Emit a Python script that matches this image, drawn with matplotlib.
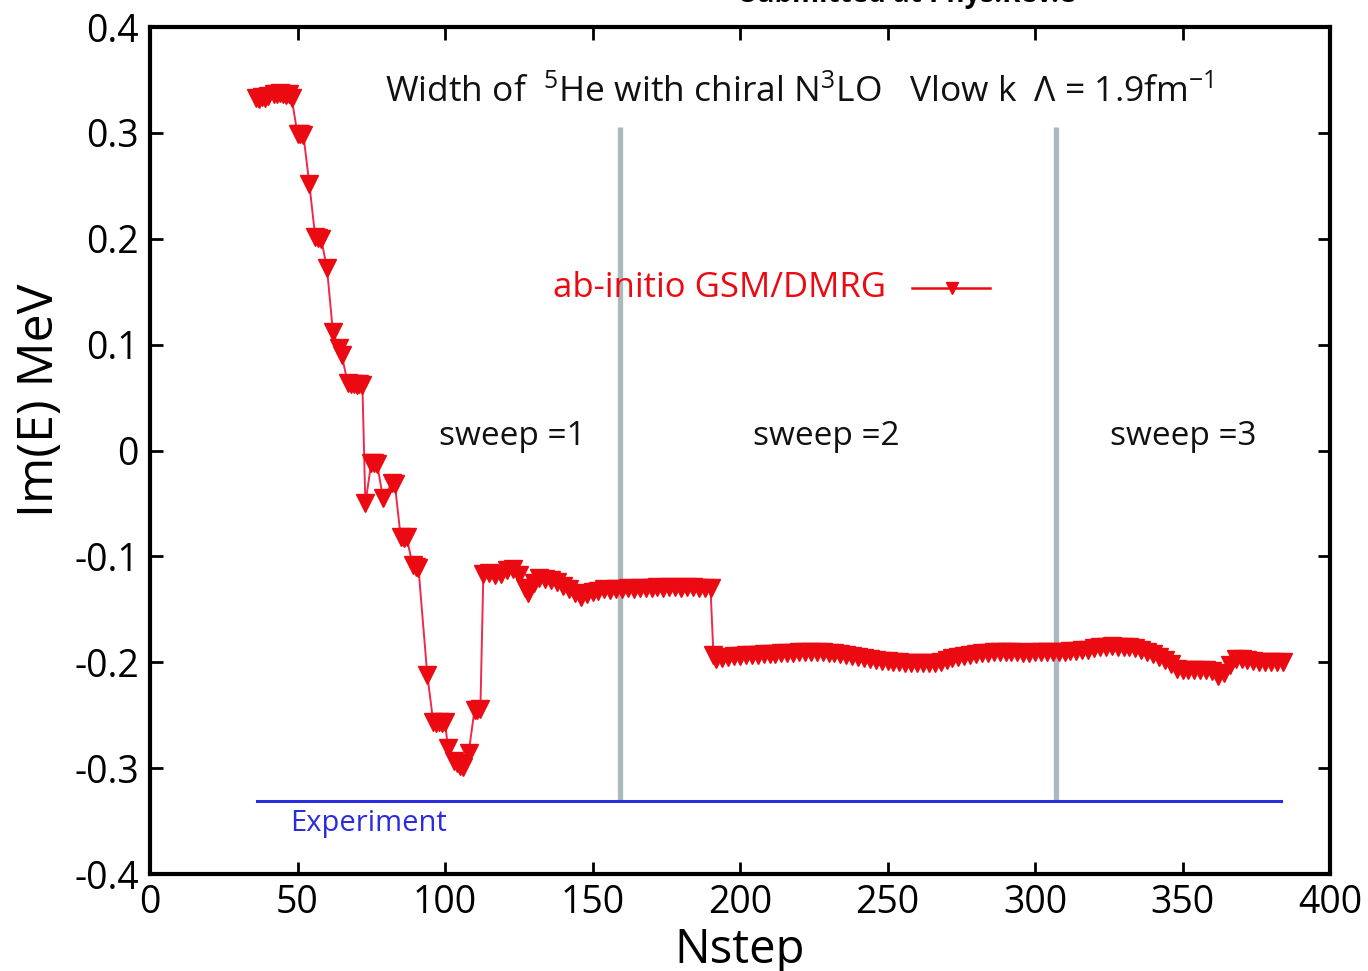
import matplotlib
matplotlib.use("Agg")
import matplotlib.pyplot as plt
from matplotlib import font_manager

names = {f.name for f in font_manager.fontManager.ttflist}
FONT = 'Liberation Sans Narrow' if 'Liberation Sans Narrow' in names else 'Open Sans'
plt.rcParams['font.family'] = [FONT, 'DejaVu Sans']
plt.rcParams['mathtext.fontset'] = 'custom'
plt.rcParams['mathtext.rm'] = FONT
plt.rcParams['mathtext.it'] = FONT
plt.rcParams['mathtext.bf'] = FONT

# ---- data ----
nstep = [36, 37, 38, 39, 40, 42, 43, 44, 45, 46, 47, 48,
         50, 51, 52, 54, 56, 57, 58, 60, 62, 64, 65,
         67, 68, 69, 70, 71, 72, 73, 75, 76, 77, 79, 82, 83,
         85, 86, 87, 89, 90, 91, 94, 96, 97, 98, 99, 100, 101,
         103, 104, 105, 106, 108, 110, 111, 112,
         113, 115, 117, 119, 121, 123, 125, 127, 128, 130, 132, 134, 136, 138,
         140, 142, 144, 146, 148, 150, 152,
         154, 156, 158, 160, 162, 164, 166, 168, 170, 172, 174, 176, 178, 180,
         182, 184, 186, 188, 190,
         191, 192, 194,
         196, 198, 200, 202, 204, 206, 208, 210, 212, 214, 216, 218, 220, 222,
         224, 226, 228, 230, 232, 234, 236, 238, 240, 242, 244, 246, 248, 250,
         252, 254, 256, 258, 260, 262, 264, 266, 268, 270, 272, 274, 276, 278,
         280, 282, 284, 286, 288, 290, 292, 294, 296, 298, 300, 302, 304, 306,
         308, 310, 312, 314, 316, 318, 320, 322, 324, 326, 328, 330, 332, 334,
         336, 338, 340, 342, 344, 346, 348, 350, 352, 354, 356, 358, 360, 362,
         364, 366, 368, 370, 372, 374, 376, 378, 380, 382, 384]
im_e = [0.333, 0.332, 0.334, 0.333, 0.335, 0.337, 0.337, 0.338, 0.337, 0.336, 0.337, 0.333,
        0.299, 0.299, 0.298, 0.252, 0.202, 0.201, 0.200, 0.172, 0.112, 0.097, 0.090,
        0.064, 0.063, 0.063, 0.062, 0.063, 0.062, -0.050, -0.012, -0.012, -0.013, -0.045, -0.031, -0.032,
        -0.082, -0.083, -0.082, -0.108, -0.110, -0.111, -0.212, -0.256, -0.257, -0.256, -0.257, -0.256, -0.281,
        -0.293, -0.295, -0.298, -0.299, -0.286, -0.245, -0.245, -0.244,
        -0.117, -0.116, -0.118, -0.117, -0.113, -0.112, -0.118, -0.130, -0.135, -0.125, -0.120, -0.121, -0.122, -0.124,
        -0.128, -0.131, -0.135, -0.138, -0.136, -0.134, -0.133,
        -0.131, -0.132, -0.131, -0.131, -0.130, -0.131, -0.130, -0.130, -0.130, -0.129, -0.130, -0.129, -0.129, -0.130,
        -0.129, -0.129, -0.130, -0.130, -0.130,
        -0.193, -0.197, -0.196,
        -0.195, -0.194, -0.194, -0.193, -0.193, -0.193, -0.192, -0.192, -0.192, -0.191, -0.191, -0.191, -0.190, -0.190,
        -0.190, -0.190, -0.190, -0.191, -0.191, -0.192, -0.193, -0.194, -0.195, -0.196, -0.197, -0.198, -0.199, -0.199,
        -0.200, -0.200, -0.201, -0.201, -0.201, -0.201, -0.201, -0.201, -0.200, -0.198, -0.196, -0.195, -0.194, -0.193,
        -0.192, -0.191, -0.191, -0.190, -0.190, -0.190, -0.190, -0.190, -0.191, -0.191, -0.190, -0.190, -0.190, -0.190,
        -0.190, -0.190, -0.189, -0.189, -0.188, -0.188, -0.187, -0.186, -0.186, -0.185, -0.186, -0.186, -0.186, -0.187,
        -0.188, -0.190, -0.192, -0.195, -0.198, -0.202, -0.206, -0.207, -0.207, -0.207, -0.207, -0.207, -0.208, -0.213,
        -0.210, -0.203, -0.197, -0.197, -0.198, -0.199, -0.200, -0.200, -0.200, -0.200, -0.200]

sweep_bounds = [159.3, 307.1]
experiment = -0.331
exp_range = [36.3, 383.4]
xticks = [0, 50, 100, 150, 200, 250, 300, 350, 400]
yticks = [-0.4, -0.3, -0.2, -0.1, 0.0, 0.1, 0.2, 0.3, 0.4]
ytick_labels = ['-0.4', '-0.3', '-0.2', '-0.1', '0', '0.1', '0.2', '0.3', '0.4']
sweep_labels = ['sweep =1', 'sweep =2', 'sweep =3']
sweep_label_x = [122.7, 229.2, 350.2]

RED = '#ec0a12'
LINE_RED = '#f0284a'

fig = plt.figure(figsize=(13.68, 9.71), dpi=100)
ax = fig.add_axes([150/1368, 1 - 874/971, 1180/1368, 847/971])
ax.set_xlim(0, 400)
ax.set_ylim(-0.4, 0.4)

# sweep separators
for xb in sweep_bounds:
    ax.plot([xb, xb], [0.306, experiment], color='#a9b9bd', lw=3.8, zorder=1, solid_capstyle='butt')

# experiment
ax.plot(exp_range, [experiment, experiment], color='#2b2be0', lw=2.2, zorder=2)
ax.text(47.5, -0.352, 'Experiment', color='#2b2be0', fontsize=21, ha='left', va='center')

# data
ax.plot(nstep, im_e, color=LINE_RED, lw=1.4, zorder=3)
ax.plot(nstep, im_e, ls='none', marker='v', ms=12.5, color=RED, mec=RED, zorder=4)

# legend (manual, inside plot)
ax.text(249.5, 0.1535, 'ab-initio GSM/DMRG', color=RED, fontsize=25, ha='right', va='center')
ax.plot([258.3, 284.7], [0.1535, 0.1535], color=RED, lw=1.8, zorder=4)
ax.plot([272], [0.1535], marker='v', ms=9, color=RED, ls='none', zorder=5)

# title inside
ax.text(79.7, 0.3386,
        r'Width of  $^{5}$He with chiral N$^{3}$LO   Vlow k  Λ = 1.9fm$^{-1}$',
        fontsize=25.5, ha='left', va='center', color='#111111')

for lab, xx in zip(sweep_labels, sweep_label_x):
    ax.text(xx, 0.0128, lab, fontsize=24, ha='center', va='center', color='#111111')

# axes styling
for s in ax.spines.values():
    s.set_linewidth(3.0)
ax.set_xticks(xticks)
ax.set_yticks(yticks)
ax.set_yticklabels(ytick_labels)
ax.tick_params(direction='in', length=9, width=2, top=True, right=True,
               labelsize=27)
ax.tick_params(axis='x', pad=7)
ax.tick_params(axis='y', pad=8)

fig.text(40/1368, 1 - 400/971, 'Im(E) MeV', rotation=90, fontsize=36,
         ha='center', va='center')
fig.text(740/1368, 1 - 950/971, 'Nstep', fontsize=34, ha='center', va='center')
fig.text(908/1368, 1 - 9/971, 'Submitted at Phys.Rev.C', fontsize=20,
         ha='center', va='bottom', fontweight='bold')

fig.savefig('out.png', dpi=100)
